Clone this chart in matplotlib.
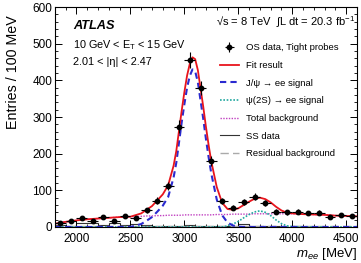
import numpy as np
import matplotlib
matplotlib.use('Agg')
import matplotlib.pyplot as plt
from matplotlib.ticker import MultipleLocator
from matplotlib.lines import Line2D

plt.rcParams['font.family'] = ['Liberation Sans', 'DejaVu Sans']
plt.rcParams['mathtext.fontset'] = 'custom'
plt.rcParams['mathtext.rm'] = 'Liberation Sans'
plt.rcParams['mathtext.it'] = 'Liberation Sans:italic'
plt.rcParams['mathtext.bf'] = 'Liberation Sans:bold'

# OS data, 100 MeV bins
bin_centers = [1850, 1950, 2050, 2150, 2250, 2350, 2450, 2550, 2650, 2750,
               2850, 2950, 3050, 3150, 3250, 3350, 3450, 3550, 3650, 3750,
               3850, 3950, 4050, 4150, 4250, 4350, 4450, 4550]
os_counts = [12, 16, 24, 16, 27, 17, 31, 25, 46, 72,
             112, 274, 455, 379, 180, 70, 53, 67, 83, 65,
             42, 40, 42, 38, 39, 28, 33, 30]

# SS data histogram (bin edges 1800..4600)
ss_edges = list(range(1800, 4700, 100))
ss_counts = [5, 4, 12, 12, 6, 10, 6, 8, 6, 4,
             3, 4, 5, 3, 2, 3, 2, 8, 3, 2,
             2, 1, 2, 1, 1, 1, 1, 1]
resid_level = [2, 2]
resid_m = [1800, 4600]

# fit components
curve_m = [1800, 1900, 2000, 2100, 2200, 2300, 2400, 2500, 2600, 2650,
           2700, 2750, 2800, 2850, 2900, 2925, 2950, 2975, 3000, 3025,
           3050, 3075, 3100, 3125, 3150, 3175, 3200, 3225, 3250, 3300,
           3350, 3400, 3450, 3500, 3550, 3600, 3650, 3700, 3750, 3800,
           3850, 3900, 3950, 4000, 4100, 4200, 4300, 4400, 4500, 4600]
jpsi = [0, 0, 0, 0, 0, 0, 0, 0, 8, 17,
        27, 42, 58, 82, 135, 175, 230, 285, 335, 380,
        412, 430, 425, 395, 345, 295, 240, 190, 145, 75,
        32, 12, 4, 1, 0, 0, 0, 0, 0, 0,
        0, 0, 0, 0, 0, 0, 0, 0, 0, 0]
psi2s = [0, 0, 0, 0, 0, 0, 0, 0, 0, 0,
         0, 0, 0, 0, 0, 0, 0, 0, 0, 0,
         0, 0, 0, 0, 0, 0, 0, 0, 0, 0,
         0, 3, 8, 15, 25, 34, 41, 44, 40, 31,
         19, 9, 3, 1, 0, 0, 0, 0, 0, 0]
bkg = [9, 14, 18, 21, 23, 25, 27, 28, 29, 30,
       30, 31, 31, 32, 32, 32, 32, 32, 33, 33,
       33, 33, 33, 33, 33, 33, 33, 33, 33, 34,
       34, 34, 35, 35, 35, 35, 36, 36, 36, 36,
       36, 36, 36, 36, 35, 34, 33, 31, 30, 29]
fit_total = np.array(jpsi) + np.array(psi2s) + np.array(bkg)

fig = plt.figure(figsize=(3.61, 2.63), dpi=100)
ax = fig.add_axes([0.152, 0.137, 0.837, 0.836])

l_res, = ax.plot(resid_m, resid_level, color='#aaaaaa', lw=1.0, dashes=(6, 3))
ax.stairs(ss_counts, ss_edges, color='#333333', lw=0.8)
l_bkg, = ax.plot(curve_m, bkg, color='#c040c0', lw=1.0, ls=(0, (1, 1)))
l_psi, = ax.plot(curve_m, psi2s, color='#20a8a0', lw=1.2, ls=(0, (1, 1)))
l_jpsi, = ax.plot(curve_m, jpsi, color='#2a2ad0', lw=1.5, dashes=(3, 2))
l_fit, = ax.plot(curve_m, fit_total, color='#e8141c', lw=1.3)
eb = ax.errorbar(bin_centers, os_counts, xerr=50, yerr=np.sqrt(os_counts),
                 fmt='o', color='black', ms=3.2, lw=0.8, capsize=0)

ax.set_xlim(1800, 4600)
ax.set_ylim(0, 600)
ax.xaxis.set_major_locator(MultipleLocator(500))
ax.xaxis.set_minor_locator(MultipleLocator(100))
ax.yaxis.set_major_locator(MultipleLocator(100))
ax.yaxis.set_minor_locator(MultipleLocator(20))
ax.tick_params(which='both', direction='in', top=True, right=True, labelsize=8.5)
ax.tick_params(which='major', length=5, width=0.7)
ax.tick_params(which='minor', length=2.5, width=0.6)
ax.tick_params(axis='x', pad=4)
ax.tick_params(axis='y', pad=2)
for s in ax.spines.values():
    s.set_linewidth(0.8)

ax.set_xlabel('$m_{ee}$ [MeV]', fontsize=9.5, loc='right', labelpad=1)
ax.set_ylabel('Entries / 100 MeV', fontsize=10.3, loc='top')
ax.yaxis.set_label_coords(-0.115, 0.964)

ax.text(0.06, 0.914, 'ATLAS', transform=ax.transAxes, fontsize=9.2,
        fontweight='bold', fontstyle='italic', va='center')
ax.text(0.06, 0.827, '10 GeV < E$_\\mathrm{T}$ < 15 GeV', transform=ax.transAxes,
        fontsize=7.8, va='center')
ax.text(0.06, 0.75, '2.01 < |η| < 2.47', transform=ax.transAxes,
        fontsize=7.8, va='center')
ax.text(0.995, 0.93, '√s = 8 TeV  ∫L dt = 20.3 fb$^{-1}$', transform=ax.transAxes,
        fontsize=8, va='center', ha='right')

ss_handle = Line2D([], [], color='#333333', lw=0.8)
handles = [eb, l_fit, l_jpsi, l_psi, l_bkg, ss_handle, l_res]
labels = ['OS data, Tight probes', 'Fit result', 'J/ψ → ee signal',
          'ψ(2S) → ee signal', 'Total background', 'SS data',
          'Residual background']
ax.legend(handles, labels, loc='upper left', bbox_to_anchor=(0.546, 0.836),
          frameon=False, fontsize=6.8, handlelength=2.0, handletextpad=0.8,
          labelspacing=0.92, borderpad=0, borderaxespad=0)

fig.savefig('out.png', dpi=100)
